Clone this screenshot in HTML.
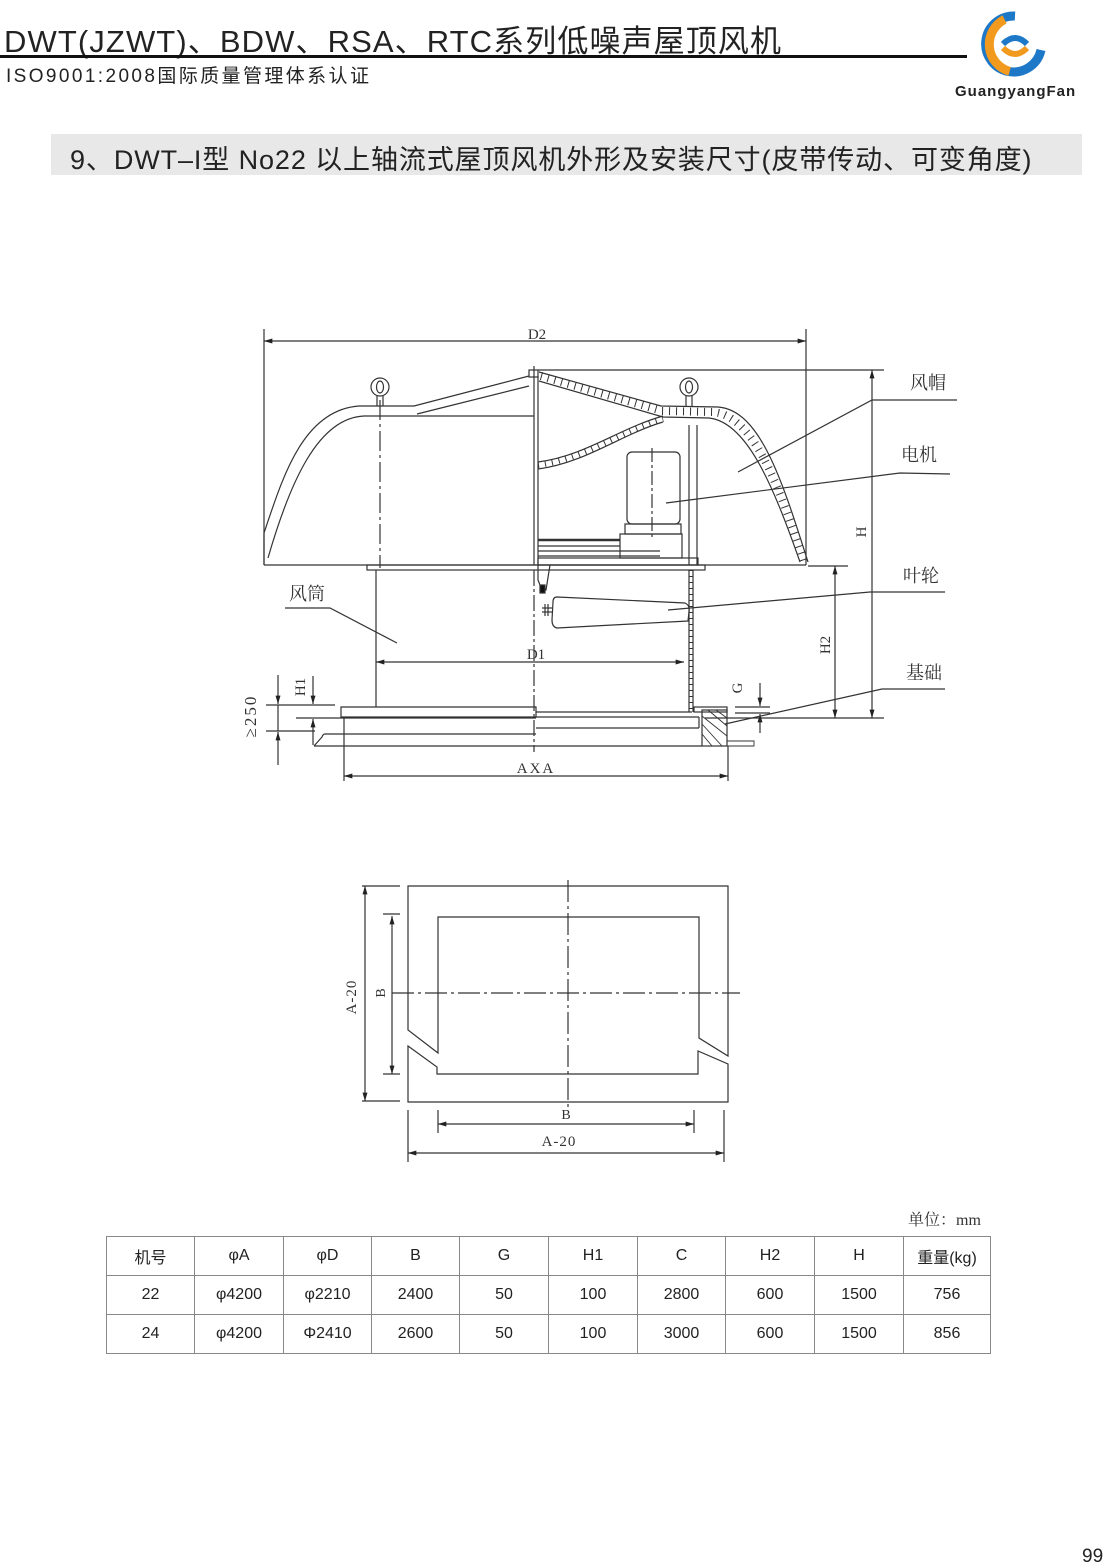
<!DOCTYPE html>
<html><head><meta charset="utf-8">
<style>
html,body{margin:0;padding:0;background:#fff;}
body{width:1105px;height:1566px;position:relative;overflow:hidden;font-family:"Liberation Sans","Noto Sans CJK SC",sans-serif;color:#222;}
.abs{position:absolute;white-space:nowrap;}
table{position:absolute;left:106px;top:1236px;border-collapse:collapse;font-size:16px;}
td{border:1px solid #888;text-align:center;height:38px;padding:0;}
</style></head><body>
<div class="abs" style="left:4px;top:16px;font-size:31px;letter-spacing:1.1px;">DWT(JZWT)、BDW、RSA、RTC系列低噪声屋顶风机</div>
<div class="abs" style="left:0;top:55px;width:967px;height:3px;background:#111;"></div>
<div class="abs" style="left:6px;top:61px;font-size:19px;letter-spacing:2.4px;">ISO9001:2008国际质量管理体系认证</div>
<svg class="abs" style="left:975px;top:8px" width="90" height="75" viewBox="0 0 90 75">
<path d="M40 8 A28 28 0 1 0 66 42" fill="none" stroke="#1e78c8" stroke-width="9"/>
<path d="M46 62 A28 28 0 0 0 50 10" fill="none" stroke="#f29a1e" stroke-width="9" transform="rotate(170 40 36)"/>
<path d="M28 36 Q40 24 52 36" fill="none" stroke="#1e78c8" stroke-width="6"/>
<path d="M28 40 Q40 52 52 40" fill="none" stroke="#f29a1e" stroke-width="6"/>
</svg>
<div class="abs" style="left:955px;top:83px;font-size:15px;font-weight:bold;letter-spacing:1px;">GuangyangFan</div>
<div class="abs" style="left:51px;top:134px;width:1031px;height:41px;background:#e8e8e8;"></div>
<div class="abs" style="left:70px;top:138px;font-size:27px;letter-spacing:0.9px;">9、DWT–I型 No22 以上轴流式屋顶风机外形及安装尺寸(皮带传动、可变角度)</div>

<svg class="abs" style="left:0;top:0" width="1105" height="1566" viewBox="0 0 1105 1566">
<defs>
<marker id="a" viewBox="0 0 10 6" refX="10" refY="3" markerWidth="12" markerHeight="5" orient="auto-start-reverse" markerUnits="userSpaceOnUse"><path d="M0 0L10 3L0 6z" fill="#222"/></marker>
</defs>
<g fill="none" stroke="#333" stroke-width="1.2">
<line x1="264" y1="329" x2="264" y2="565"/><line x1="806" y1="329" x2="806" y2="565"/>
<line x1="264" y1="341" x2="806" y2="341" marker-start="url(#a)" marker-end="url(#a)"/>
<path d="M264,565 L264,533 C282,480 302,410 359,406 L414,406 L529,376"/>
<path d="M268,558 C290,482 318,418 364,416 L534,416"/>
<path d="M417,414 L529,386"/>
<rect x="529" y="370" width="9" height="7"/>
<line x1="534" y1="366" x2="534" y2="565"/>
<line x1="538" y1="376" x2="538" y2="565"/>
<path d="M539,372 L661,406 L718,407 C760,410 782,480 808,562"/>
<path d="M539,381 L663,417 L709,418 C746,422 772,482 800,562"/>
<path d="M541,376 L662,411 L713,412 C753,416 777,480 804,562" stroke="#333" stroke-width="8" stroke-dasharray="1 6"/>
<path d="M538,462 C585,456 620,428 663,416"/>
<path d="M538,469 C585,463 622,434 663,422"/>
<path d="M538,465 C585,459 621,431 663,419" stroke-width="6" stroke-dasharray="1 6"/>
<line x1="264" y1="565" x2="806" y2="565"/>
<rect x="367" y="565" width="338" height="5"/>
<circle cx="380" cy="387" r="9"/><ellipse cx="380" cy="387" rx="3.5" ry="6"/><line x1="377" y1="396" x2="377" y2="406"/><line x1="383" y1="396" x2="383" y2="406"/>
<circle cx="689" cy="387" r="9"/><ellipse cx="689" cy="387" rx="3.5" ry="6"/><line x1="686" y1="396" x2="686" y2="406"/><line x1="692" y1="396" x2="692" y2="406"/>
<line x1="380" y1="400" x2="380" y2="568" stroke-dasharray="20 4 3 4"/>
<line x1="689" y1="425" x2="689" y2="565"/><line x1="697" y1="425" x2="697" y2="565"/>
<rect x="627" y="452" width="53" height="72" rx="5"/>
<line x1="652" y1="448" x2="652" y2="540" stroke-dasharray="14 3 3 3"/>
<rect x="625" y="524" width="56" height="10"/>
<rect x="620" y="534" width="62" height="24"/>
<line x1="538" y1="540" x2="620" y2="540" stroke-width="2.5"/>
<line x1="538" y1="546" x2="620" y2="546"/><line x1="538" y1="551" x2="660" y2="551"/><line x1="538" y1="556" x2="660" y2="556"/>
<rect x="538" y="558" width="160" height="7"/>
<path d="M538,565 L538,580 L542,590 L546,590 L550,565"/>
<rect x="540" y="585" width="5" height="8" fill="#111"/>
<line x1="376" y1="570" x2="376" y2="707"/>
<line x1="689" y1="570" x2="689" y2="712"/><line x1="693" y1="570" x2="693" y2="712"/>
<line x1="691" y1="570" x2="691" y2="712" stroke-width="4" stroke-dasharray="1 5"/>
<line x1="534" y1="570" x2="534" y2="752" stroke-dasharray="16 3 3 3"/>
<path d="M557,597 L685,603 Q690,605 689,612 L688,621 L557,628 Q552,627 552,620 L553,602 Q553,597 557,597 Z"/>
<line x1="545" y1="604" x2="545" y2="616"/><line x1="548" y1="604" x2="548" y2="616"/><line x1="542" y1="608" x2="552" y2="608"/><line x1="542" y1="612" x2="552" y2="612"/>
<line x1="376" y1="662" x2="684" y2="662" marker-start="url(#a)" marker-end="url(#a)"/>
<path d="M341,717 L341,707 L536,707 L536,717 Z"/>
<line x1="536" y1="712" x2="692" y2="712"/>
<line x1="296" y1="718" x2="536" y2="718"/>
<line x1="536" y1="728" x2="699" y2="728"/><line x1="699" y1="717" x2="699" y2="728"/><line x1="536" y1="717" x2="699" y2="717"/>
<line x1="344" y1="718" x2="344" y2="781"/>
<path d="M325,734 L536,734 M314,746 L322,737 Q323,734 325,734 M314,746 L702,746"/>
<rect x="702" y="710" width="25" height="36"/>
<path d="M702,716 L727,736 M702,724 L722,746 M702,734 L712,746 M708,710 L727,726 M716,710 L727,718 M727,741 L754,741 L754,746 L727,746" stroke-width="0.9"/>
<rect x="694" y="707" width="33" height="5"/>
<line x1="728" y1="746" x2="728" y2="781"/>
<line x1="344" y1="776" x2="728" y2="776" marker-start="url(#a)" marker-end="url(#a)"/>
<line x1="266" y1="705" x2="335" y2="705"/><line x1="266" y1="731" x2="315" y2="731"/>
<line x1="278" y1="705" x2="278" y2="731"/>
<line x1="278" y1="675" x2="278" y2="704" marker-end="url(#a)"/>
<line x1="278" y1="765" x2="278" y2="732" marker-end="url(#a)"/>
<line x1="313" y1="676" x2="313" y2="704" marker-end="url(#a)"/>
<line x1="313" y1="745" x2="313" y2="719" marker-end="url(#a)"/>
<line x1="538" y1="370" x2="884" y2="370"/><line x1="705" y1="718" x2="884" y2="718"/>
<line x1="872" y1="370" x2="872" y2="718" marker-start="url(#a)" marker-end="url(#a)"/>
<line x1="808" y1="566" x2="848" y2="566"/>
<line x1="835" y1="566" x2="835" y2="718" marker-start="url(#a)" marker-end="url(#a)"/>
<line x1="735" y1="707" x2="770" y2="707"/><line x1="735" y1="713" x2="770" y2="713"/>
<line x1="760" y1="683" x2="760" y2="706" marker-end="url(#a)"/><line x1="760" y1="733" x2="760" y2="714" marker-end="url(#a)"/>
<path d="M957,400 L872,400 L738,472"/>
<path d="M950,474 L900,473 L666,503"/>
<path d="M945,592 L870,592 L668,610"/>
<path d="M945,689 L882,689 L725,724"/>
<path d="M285,608 L330,608 L397,643"/>
<path d="M408,886 L728,886 L728,1056 L699,1038 L699,917 L438,917 L438,1053 L408,1030 Z"/>
<path d="M408,1046 L437,1067 L437,1074 L698,1074 L698,1051 L728,1064 L728,1102 L408,1102 Z"/>
<line x1="568" y1="880" x2="568" y2="1108" stroke-dasharray="22 4 3 4"/>
<line x1="392" y1="993" x2="740" y2="993" stroke-dasharray="22 4 3 4"/>
<line x1="362" y1="886" x2="400" y2="886"/><line x1="362" y1="1101" x2="400" y2="1101"/>
<line x1="365" y1="886" x2="365" y2="1101" marker-start="url(#a)" marker-end="url(#a)"/>
<line x1="383" y1="914" x2="400" y2="914"/><line x1="383" y1="1074" x2="400" y2="1074"/>
<line x1="392" y1="916" x2="392" y2="1074" marker-start="url(#a)" marker-end="url(#a)"/>
<line x1="438" y1="1110" x2="438" y2="1133"/><line x1="694" y1="1110" x2="694" y2="1133"/>
<line x1="438" y1="1124" x2="694" y2="1124" marker-start="url(#a)" marker-end="url(#a)"/>
<line x1="408" y1="1110" x2="408" y2="1162"/><line x1="724" y1="1110" x2="724" y2="1162"/>
<line x1="408" y1="1153" x2="724" y2="1153" marker-start="url(#a)" marker-end="url(#a)"/>
</g>
<g font-family="Liberation Serif,Noto Serif CJK SC,serif" fill="#333">
<text x="537" y="339" font-size="15" text-anchor="middle">D2</text>
<text x="536" y="659" font-size="15" text-anchor="middle">D1</text>
<text x="536" y="773" font-size="15" text-anchor="middle" letter-spacing="2">AXA</text>
<text x="910" y="389" font-size="18">风帽</text>
<text x="901" y="461" font-size="18">电机</text>
<text x="903" y="582" font-size="18">叶轮</text>
<text x="906" y="679" font-size="18">基础</text>
<text x="289" y="600" font-size="18">风筒</text>
<text font-size="15" transform="translate(866,532) rotate(-90)" text-anchor="middle">H</text>
<text font-size="15" transform="translate(830,645) rotate(-90)" text-anchor="middle">H2</text>
<text font-size="15" transform="translate(742,688) rotate(-90)" text-anchor="middle">G</text>
<text font-size="15" transform="translate(305,687) rotate(-90)" text-anchor="middle">H1</text>
<text font-size="17" transform="translate(256,716) rotate(-90)" text-anchor="middle" letter-spacing="2">≥250</text>
<text font-size="15" transform="translate(356,997) rotate(-90)" text-anchor="middle" letter-spacing="1">A-20</text>
<text font-size="14" transform="translate(385,993) rotate(-90)" text-anchor="middle">B</text>
<text x="566" y="1119" font-size="14" text-anchor="middle">B</text>
<text x="559" y="1146" font-size="15" text-anchor="middle" letter-spacing="1">A-20</text>
<text x="908" y="1225" font-size="16">单位：mm</text>
</g>
</svg>
<table>
<tr><td style="width:87px">机号</td><td style="width:88px">φA</td><td style="width:87px">φD</td><td style="width:87px">B</td><td style="width:88px">G</td><td style="width:88px">H1</td><td style="width:87px">C</td><td style="width:88px">H2</td><td style="width:88px">H</td><td style="width:86px">重量(kg)</td></tr>
<tr><td>22</td><td>φ4200</td><td>φ2210</td><td>2400</td><td>50</td><td>100</td><td>2800</td><td>600</td><td>1500</td><td>756</td></tr>
<tr><td>24</td><td>φ4200</td><td>Φ2410</td><td>2600</td><td>50</td><td>100</td><td>3000</td><td>600</td><td>1500</td><td>856</td></tr>
</table>
<div class="abs" style="left:1082px;top:1546px;font-size:19px;">99</div>
</body></html>
